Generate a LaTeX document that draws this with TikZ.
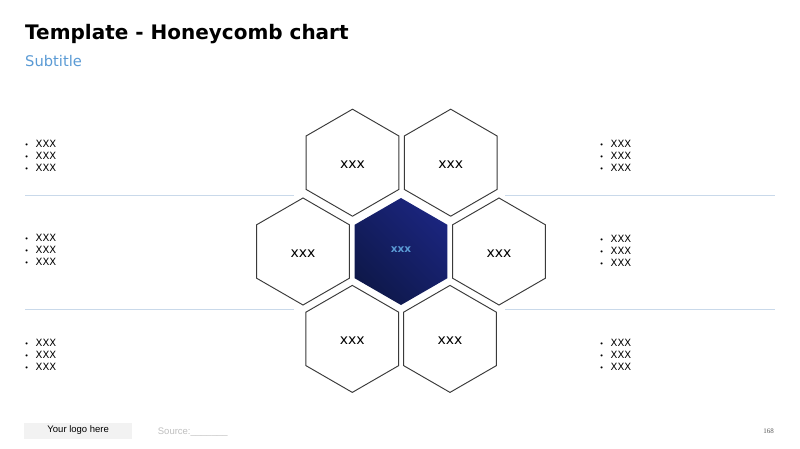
\documentclass[tikz,border=0pt]{standalone}
\usepackage{fontspec}
\setmainfont{DejaVu Sans}
\newfontfamily\liba{Liberation Sans}
\newfontfamily\libserif{Liberation Serif}
\usetikzlibrary{shapes.geometric}
\definecolor{hexline}{HTML}{3A3A3A}
\definecolor{navyA}{HTML}{0E184A}
\definecolor{navyB}{HTML}{1B257E}
\definecolor{corecol}{HTML}{5B9BD5}
\definecolor{subcol}{HTML}{5B9BD5}
\definecolor{sepcol}{HTML}{C9D9EA}
\definecolor{logogray}{HTML}{F2F2F2}
\definecolor{srcgray}{HTML}{BFBFBF}
\definecolor{pagegray}{HTML}{595959}
\newcommand\mybitem{\makebox[11pt][l]{{\fontsize{7}{12}\selectfont\textbullet}}XXX}
\newcommand\myblist[3]{\node[blist] (#1) at (#2,#3) {\begin{tabular}[t]{@{}l@{}}\mybitem\\\mybitem\\\mybitem\end{tabular}};}
\tikzset{
  hexcell/.style={regular polygon, regular polygon sides=6, shape border rotate=30,
    minimum size=107pt, inner sep=0pt, outer sep=0pt, draw=hexline, line width=0.95pt,
    fill=white, font=\fontsize{14}{16}\selectfont, text height=11.2pt, text depth=0pt},
  hexcore/.style={hexcell, draw=none, bottom color=navyA, top color=navyB, shading angle=-45,
    text=corecol, font=\bfseries\fontsize{10.5}{12}\selectfont, text height=2.2pt, text depth=0pt},
  blist/.style={anchor=base west, inner sep=0pt, font=\fontsize{10}{12}\selectfont},
  sepline/.style={draw=sepcol, line width=0.8pt},
}
\begin{document}
\begin{tikzpicture}[x=1pt,y=-1pt]
\fill[white] (0,0) rectangle (800,449);
\useasboundingbox (0,0) rectangle (800,449);
% title
\node[anchor=base west, inner sep=0pt, font=\bfseries\fontsize{20}{23}\selectfont] (title) at (25,39.5) {Template - Honeycomb chart};
\node[anchor=base west, inner sep=0pt, text=subcol, font=\fontsize{14.7}{17}\selectfont] (subtitle) at (25,66.7) {Subtitle};
% separator lines
\coordinate (la1) at (25,195.3); \coordinate (lb1) at (294,195.3);
\coordinate (la2) at (25,309.5); \coordinate (lb2) at (294,309.5);
\coordinate (ra1) at (505,195.3); \coordinate (rb1) at (775,195.3);
\coordinate (ra2) at (505,309.5); \coordinate (rb2) at (775,309.5);
\draw[sepline] (la1) -- (lb1);
\draw[sepline] (la2) -- (lb2);
\draw[sepline] (ra1) -- (rb1);
\draw[sepline] (ra2) -- (rb2);
% hexagons
\node[hexcell] (tl) at (352.5,162.7) {xxx};
\node[hexcell] (tr) at (450.7,162.7) {xxx};
\node[hexcell] (ml) at (303,251.5) {xxx};
\node[hexcore] (mc) at (401,251.5) {xxx};
\node[hexcell] (mr) at (499,251.5) {xxx};
\node[hexcell] (bl) at (352.3,338.9) {xxx};
\node[hexcell] (br) at (450,338.9) {xxx};
% bullet lists
\myblist{l1}{24.5}{147.3}
\myblist{l2}{24.5}{241.8}
\myblist{l3}{24.5}{346.3}
\myblist{r1}{599.5}{147.5}
\myblist{r2}{599.5}{242}
\myblist{r3}{599.5}{346.3}
% footer
\node[anchor=north west, fill=logogray, minimum width=108pt, minimum height=16pt, inner sep=0pt,
  font=\liba\fontsize{9.5}{11}\selectfont] (logo) at (24,422.3) {Your logo here};
\node[anchor=base west, inner sep=0pt, text=srcgray, font=\liba\fontsize{9.5}{11}\selectfont] (source) at (157.7,434) {Source:\_\_\_\_\_\_\_};
\node[anchor=base east, inner sep=0pt, text=pagegray, font=\libserif\fontsize{7}{8}\selectfont] (page) at (774,433) {168};
\end{tikzpicture}
\end{document}
